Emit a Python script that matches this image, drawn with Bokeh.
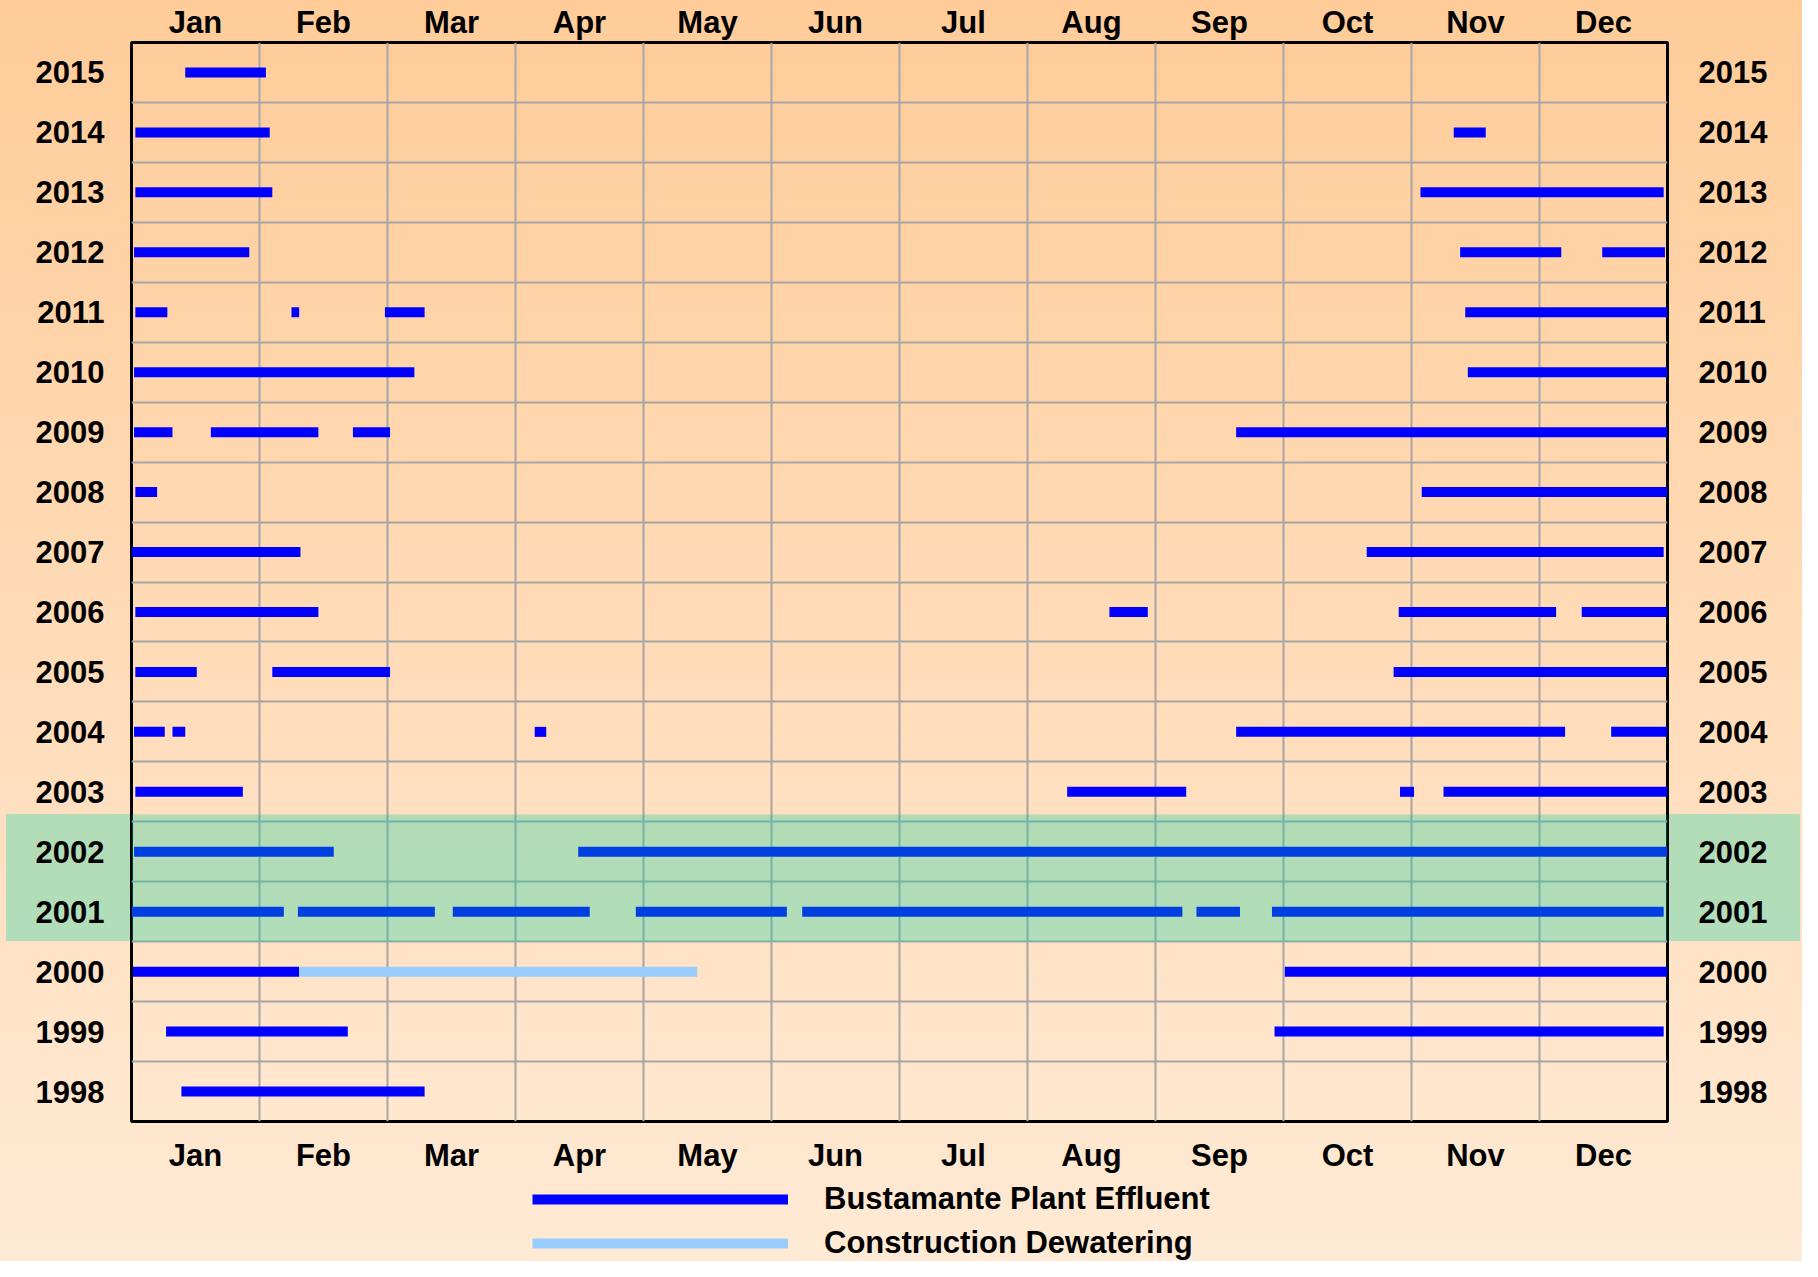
from bokeh.plotting import figure
from bokeh.layouts import column
from bokeh.models import (Range1d, LinearAxis, FixedTicker, BoxAnnotation,
                          Legend, LegendItem, ColumnDataSource)
from bokeh.embed import file_html
from bokeh.resources import INLINE

# ---------------- data (month units: 0 = 1 Jan, 12 = 31 Dec) ----------------
month_labels = ["Jan", "Feb", "Mar", "Apr", "May", "Jun",
                "Jul", "Aug", "Sep", "Oct", "Nov", "Dec"]
years = list(range(1998, 2016))

# Bustamante Plant Effluent periods
eff_year = [2015,
            2014, 2014,
            2013, 2013,
            2012, 2012, 2012,
            2011, 2011, 2011, 2011,
            2010, 2010,
            2009, 2009, 2009, 2009,
            2008, 2008,
            2007, 2007,
            2006, 2006, 2006, 2006,
            2005, 2005, 2005,
            2004, 2004, 2004, 2004, 2004,
            2003, 2003, 2003, 2003,
            2002, 2002,
            2001, 2001, 2001, 2001, 2001, 2001, 2001,
            2000, 2000,
            1999, 1999,
            1998]
eff_start = [0.42,
             0.03, 10.33,
             0.03, 10.07,
             0.02, 10.38, 11.49,
             0.03, 1.25, 1.98, 10.42,
             0.02, 10.44,
             0.02, 0.62, 1.73, 8.63,
             0.03, 10.08,
             0.00, 9.65,
             0.03, 7.64, 9.90, 11.33,
             0.03, 1.10, 9.86,
             0.02, 0.32, 3.15, 8.63, 11.56,
             0.03, 7.31, 9.91, 10.25,
             0.02, 3.49,
             0.00, 1.30, 2.51, 3.94, 5.24, 8.32, 8.91,
             0.01, 9.01,
             0.27, 8.93,
             0.39]
eff_end = [1.05,
           1.08, 10.58,
           1.10, 11.97,
           0.92, 11.17, 11.98,
           0.28, 1.31, 2.29, 12.00,
           2.21, 12.00,
           0.32, 1.46, 2.02, 12.00,
           0.20, 12.00,
           1.32, 11.97,
           1.46, 7.94, 11.13, 12.00,
           0.51, 2.02, 12.00,
           0.26, 0.42, 3.24, 11.20, 12.00,
           0.87, 8.24, 10.02, 12.00,
           1.58, 12.00,
           1.19, 2.37, 3.58, 5.12, 8.21, 8.66, 11.97,
           1.31, 12.00,
           1.69, 11.97,
           2.29]

# Construction Dewatering periods
dew_year = [2000]
dew_start = [1.31]
dew_end = [4.42]

# highlighted years
band_years = [2001, 2002]

series_names = ["Bustamante Plant Effluent", "Construction Dewatering"]
series_colors = ["#0000FF", "#99CCFF"]

# ---------------- layout constants ----------------
W, H = 1802, 1261
MAIN_H = 1181
FRAME_L, FRAME_R, FRAME_T, FRAME_B = 131, 1667, 42, 1121
FONT = "Liberation Sans"
LABEL_SIZE = "31px"
BAR_W = 10
Y0, Y1 = years[0] - 0.5, years[-1] + 0.5

p = figure(width=W, height=MAIN_H, output_backend="svg", toolbar_location=None,
           x_range=Range1d(0, 12), y_range=Range1d(Y0, Y1),
           min_border_left=FRAME_L, min_border_right=W - FRAME_R,
           min_border_top=FRAME_T, min_border_bottom=MAIN_H - FRAME_B,
           x_axis_location=None, y_axis_location=None)
p.border_fill_color = None
p.background_fill_color = None
p.outline_line_color = "black"
p.outline_line_width = 3

month_ticks = [i + 0.5 for i in range(12)]
month_over = {t: m for t, m in zip(month_ticks, month_labels)}
year_over = {y: str(y) for y in years}

bottom_axis = LinearAxis(ticker=FixedTicker(ticks=month_ticks),
                         major_label_overrides=month_over, major_label_standoff=16)
top_axis = LinearAxis(ticker=FixedTicker(ticks=month_ticks),
                      major_label_overrides=month_over, major_label_standoff=3)
left_axis = LinearAxis(ticker=FixedTicker(ticks=years),
                       major_label_overrides=year_over, major_label_standoff=27)
right_axis = LinearAxis(ticker=FixedTicker(ticks=years),
                        major_label_overrides=year_over, major_label_standoff=31)
p.add_layout(bottom_axis, "below")
p.add_layout(top_axis, "above")
p.add_layout(left_axis, "left")
p.add_layout(right_axis, "right")

for ax in (bottom_axis, top_axis, left_axis, right_axis):
    ax.axis_line_color = None
    ax.major_tick_line_color = None
    ax.minor_tick_line_color = None
    ax.major_tick_out = 0
    ax.major_tick_in = 0
    ax.major_label_text_font = FONT
    ax.major_label_text_font_style = "bold"
    ax.major_label_text_font_size = LABEL_SIZE
    ax.major_label_text_color = "black"

p.xgrid.ticker = FixedTicker(ticks=list(range(1, 12)))
p.ygrid.ticker = FixedTicker(ticks=[y + 0.5 for y in years[:-1]])
for g in (p.xgrid, p.ygrid):
    g.grid_line_color = "#A6A6A6"
    g.grid_line_width = 2

eff_src = ColumnDataSource(dict(y=eff_year, x0=eff_start, x1=eff_end))
dew_src = ColumnDataSource(dict(y=dew_year, x0=dew_start, x1=dew_end))
sources = [eff_src, dew_src]

for src, col in zip(sources, series_colors):
    p.segment(x0="x0", x1="x1", y0="y", y1="y", source=src,
              line_color=col, line_width=BAR_W, line_cap="butt")

# highlight band (inside the frame drawn by Bokeh over the bars)
band_bottom = min(band_years) - 0.5
band_top = max(band_years) + 0.62
p.add_layout(BoxAnnotation(bottom=band_bottom, top=band_top,
                           fill_color="#00D2A0", fill_alpha=0.3, line_alpha=0))

# the part of the band outside the frame is painted behind the canvas
row_px = (FRAME_B - FRAME_T) / (Y1 - Y0)
band_px_top = FRAME_T + (Y1 - band_top) * row_px
band_px_h = (band_top - band_bottom) * row_px
stripe = "linear-gradient(rgba(0,210,160,0.3), rgba(0,210,160,0.3))"
bg = (f"{stripe} 6px {band_px_top:.0f}px / {FRAME_L - 6}px {band_px_h:.0f}px no-repeat, "
      f"{stripe} {FRAME_R}px {band_px_top:.0f}px / {1800 - FRAME_R}px {band_px_h:.0f}px no-repeat, "
      "linear-gradient(180deg, #FFCC99 0%, #FFEAD5 100%)")

# ---------------- legend strip (same sources, kept out of its view) ----------------
lf = figure(width=W, height=H - MAIN_H, output_backend="svg", toolbar_location=None,
            x_range=Range1d(-2, -1), y_range=Range1d(0, 1),
            x_axis_location=None, y_axis_location=None, min_border=0)
lf.border_fill_color = None
lf.background_fill_color = None
lf.outline_line_color = None
lf.grid.visible = False
items = []
for name, src, col in zip(series_names, sources, series_colors):
    r = lf.segment(x0="x0", x1="x1", y0="y", y1="y", source=src, line_color=col,
                   line_width=BAR_W, line_cap="butt")
    items.append(LegendItem(label=name, renderers=[r]))
legend = Legend(items=items, location=(532 - FRAME_L, 0), orientation="vertical",
                glyph_width=256, glyph_height=36, label_height=36,
                label_standoff=36, spacing=8, padding=0, margin=0,
                label_text_font=FONT, label_text_font_style="bold",
                label_text_font_size=LABEL_SIZE, label_text_color="black",
                background_fill_alpha=0, border_line_alpha=0)
lf.add_layout(legend)

layout = column(p, lf, spacing=0, styles={"background": bg})

open("out.html", "w").write(file_html(layout, INLINE))
